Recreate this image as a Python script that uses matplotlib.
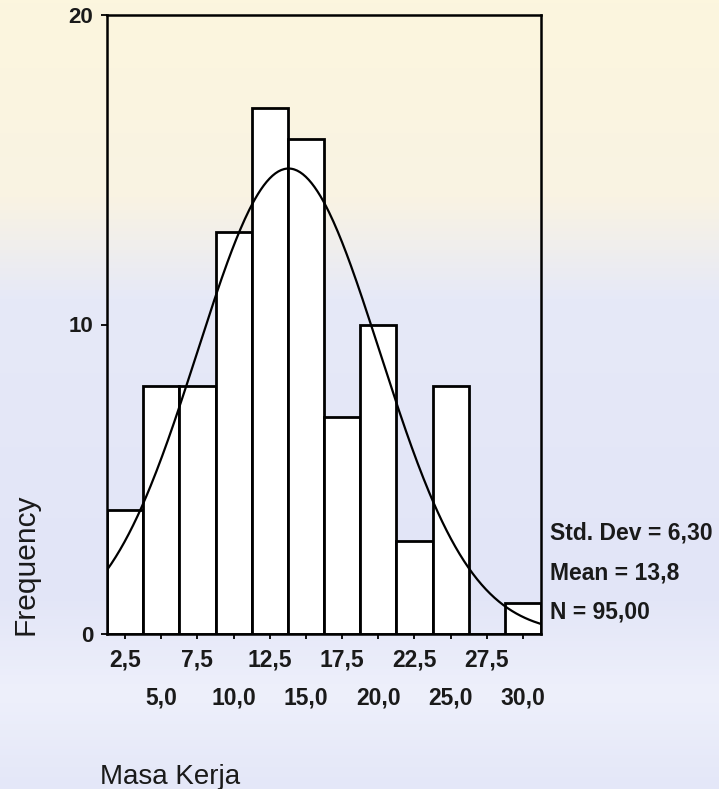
import numpy as np
import matplotlib.pyplot as plt
from matplotlib.colors import LinearSegmentedColormap

plt.rcParams['font.family'] = ['Liberation Sans', 'DejaVu Sans']

# histogram data (bin centres, counts)
bin_centers = [2.5, 5.0, 7.5, 10.0, 12.5, 15.0, 17.5, 20.0, 22.5, 25.0, 27.5, 30.0]
counts = [4, 8, 8, 13, 17, 16, 7, 10, 3, 8, 0, 1]
bin_width = 2.5

# statistics shown on the chart
std_dev = 6.30
mean = 13.8
n = 95

tick_labels = ['2,5', '5,0', '7,5', '10,0', '12,5', '15,0', '17,5', '20,0',
               '22,5', '25,0', '27,5', '30,0']
y_ticks = [0, 10, 20]

fig = plt.figure(figsize=(7.19, 7.89), dpi=100)

# pale watermark-like background (cream at top, lavender below)
bg = fig.add_axes([0, 0, 1, 1], zorder=-10)
cmap = LinearSegmentedColormap.from_list(
    'bg', [(0.0, '#fcf6de'), (0.25, '#f9f3e3'), (0.38, '#e6e9f8'),
           (0.75, '#e2e5f7'), (0.88, '#eef0fb'), (1.0, '#e4e7f8')])
grad = np.linspace(0, 1, 256).reshape(-1, 1)
bg.imshow(grad, aspect='auto', cmap=cmap, extent=[0, 1, 0, 1], origin='upper')
bg.axis('off')

ax = fig.add_axes([107 / 719, 1 - 634 / 789, 434 / 719, 619 / 789])
ax.patch.set_alpha(0)

ax.bar(bin_centers, counts, width=bin_width, color='white', edgecolor='black',
       linewidth=2.0, zorder=2)

# normal curve scaled to counts
xs = np.linspace(1.25, 31.25, 300)
ys = n * bin_width / (std_dev * np.sqrt(2 * np.pi)) * np.exp(-0.5 * ((xs - mean) / std_dev) ** 2)
ax.plot(xs, ys, color='black', linewidth=1.6, zorder=3)

ax.set_xlim(1.25, 31.25)
ax.set_ylim(0, 20)

for s in ax.spines.values():
    s.set_linewidth(1.8)

ax.set_xticks(bin_centers)
ax.set_xticklabels(tick_labels, fontsize=16.5, fontweight='bold', color='#1a1a1a')
ax.tick_params(axis='x', length=3.6, width=1.3, direction='out')
for i, t in enumerate(ax.xaxis.get_major_ticks()):
    t.set_pad(7 if i % 2 == 0 else 34)

ax.set_yticks(y_ticks)
ax.set_yticklabels([str(v) for v in y_ticks], fontsize=16, fontweight='bold', color='#1a1a1a')
ax.tick_params(axis='y', length=4, width=1.3, direction='out', pad=6)

fig.text(25 / 719, 1 - 564 / 789, 'Frequency', rotation=90, fontsize=21.5,
         ha='center', va='center', color='#1a1a1a')
fig.text(100 / 719, 1 - 777 / 789, 'Masa Kerja', fontsize=20,
         ha='left', va='center', color='#1a1a1a')

stats = ['Std. Dev = 6,30', 'Mean = 13,8', 'N = 95,00']
for label, yp in zip(stats, [533, 573, 612]):
    fig.text(550 / 719, 1 - yp / 789, label, fontsize=16.5, fontweight='bold',
             ha='left', va='center', color='#1a1a1a')

fig.savefig('out.png', dpi=100)
